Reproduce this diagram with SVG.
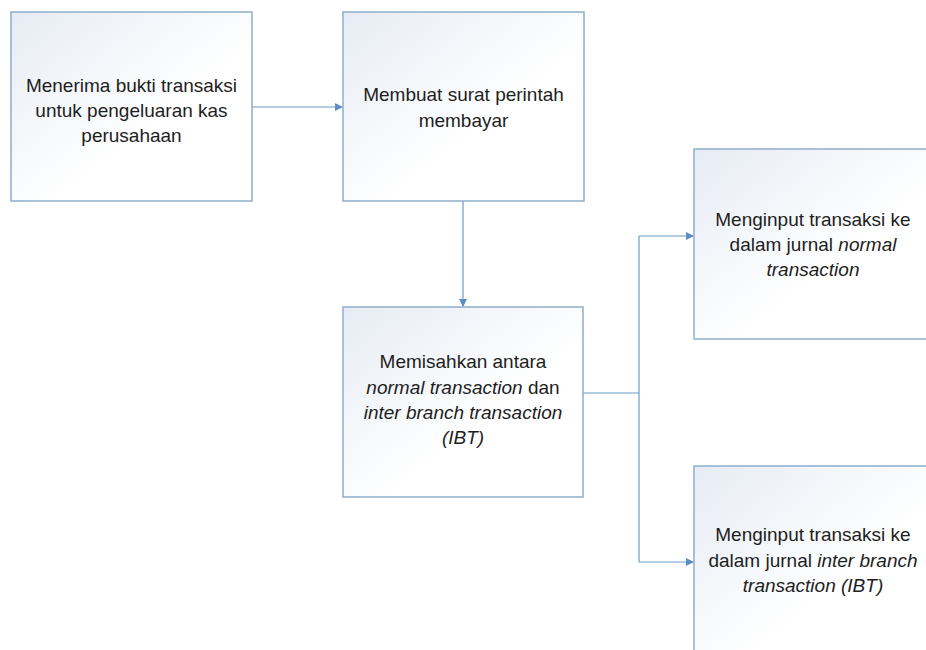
<svg xmlns="http://www.w3.org/2000/svg" width="926" height="650" viewBox="0 0 926 650">
<defs>
<linearGradient id="g" x1="0" y1="0" x2="1" y2="1">
<stop offset="0" stop-color="#e6ecf4"/>
<stop offset="0.6" stop-color="#ffffff"/>
<stop offset="1" stop-color="#ffffff"/>
</linearGradient>
<marker id="arr" markerWidth="8" markerHeight="8" refX="7" refY="4" orient="auto" markerUnits="userSpaceOnUse">
<path d="M0,0 L8,4 L0,8 Z" fill="#5b8fc4"/>
</marker>
<style>
.box{fill:url(#g);stroke:#8eaecb;stroke-width:1.5}
.t{font-family:"Liberation Sans",Arial,sans-serif;font-size:19px;fill:#1e1e1e;text-anchor:middle}
.i{font-style:italic}
.c{fill:none;stroke:#6a9bcb;stroke-width:1.2}
</style>
</defs>
<rect width="926" height="650" fill="#ffffff"/>
<g id="connectors">
<path class="c" d="M252,107 L342,107" marker-end="url(#arr)"/>
<path class="c" d="M463,201 L463,306" marker-end="url(#arr)"/>
<path class="c" d="M583,393 L639,393"/>
<path class="c" d="M639,236 L639,562"/>
<path class="c" d="M639,236 L693,236" marker-end="url(#arr)"/>
<path class="c" d="M639,562 L693,562" marker-end="url(#arr)"/>
</g>
<g id="n1">
<rect class="box" x="11" y="12" width="241" height="189"/>
<text class="t" x="131.5" y="92">Menerima bukti transaksi</text>
<text class="t" x="131.5" y="117">untuk pengeluaran kas</text>
<text class="t" x="131.5" y="142">perusahaan</text>
</g>
<g id="n2">
<rect class="box" x="343" y="12" width="241" height="189"/>
<text class="t" x="463.5" y="101">Membuat surat perintah</text>
<text class="t" x="463.5" y="127">membayar</text>
</g>
<g id="n3">
<rect class="box" x="343" y="307" width="240" height="190"/>
<text class="t" x="463" y="368">Memisahkan antara</text>
<text class="t" x="463" y="394"><tspan class="i">normal transaction</tspan> dan</text>
<text class="t" x="463" y="419"><tspan class="i">inter branch transaction</tspan></text>
<text class="t" x="463" y="444"><tspan class="i">(IBT)</tspan></text>
</g>
<g id="n4">
<rect class="box" x="694" y="149" width="242" height="190"/>
<text class="t" x="813" y="226">Menginput transaksi ke</text>
<text class="t" x="813" y="251">dalam jurnal <tspan class="i">normal</tspan></text>
<text class="t" x="813" y="276"><tspan class="i">transaction</tspan></text>
</g>
<g id="n5">
<rect class="box" x="694" y="466" width="242" height="200"/>
<text class="t" x="813" y="541">Menginput transaksi ke</text>
<text class="t" x="813" y="567">dalam jurnal <tspan class="i">inter branch</tspan></text>
<text class="t" x="813" y="592"><tspan class="i">transaction (IBT)</tspan></text>
</g>
</svg>
